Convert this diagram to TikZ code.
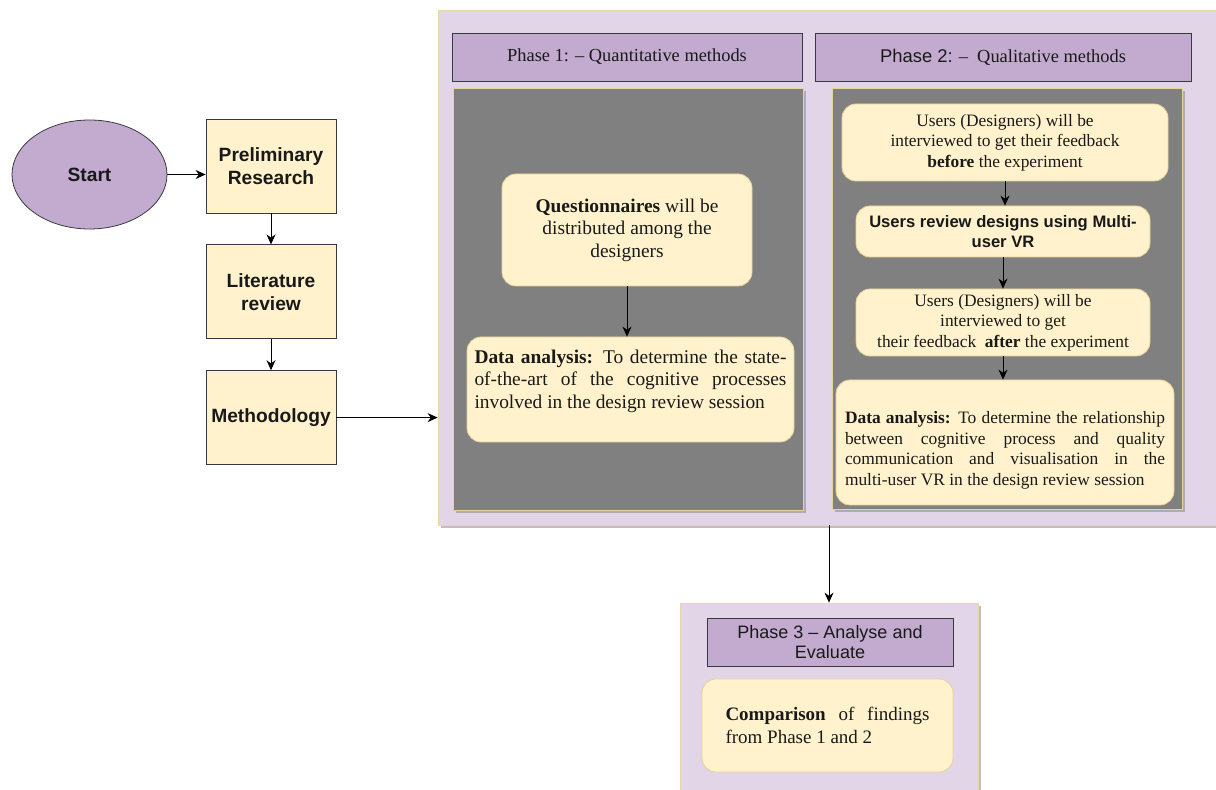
\documentclass[tikz,border=0pt]{standalone}
\usepackage{fontspec}
\setmainfont{Liberation Serif}
\setsansfont{Liberation Sans}
\usetikzlibrary{positioning,shapes.geometric,shadows,arrows.meta}

\definecolor{lilac}{HTML}{E1D5E7}
\definecolor{mauve}{HTML}{C3ABD0}
\definecolor{cream}{HTML}{FFF2CC}
\definecolor{gold}{HTML}{D6B656}
\definecolor{edge}{HTML}{36393D}
\definecolor{slate}{HTML}{808080}

\begin{document}
\begin{tikzpicture}[
    x=0.5pt, y=-0.5pt,
    node distance=15.5pt,
    >={Stealth[length=5pt,width=4.5pt]},
    every node/.style={inner sep=0pt, text=black!90},
    softshadow/.style={drop shadow={shadow xshift=1.5pt, shadow yshift=-1.5pt, fill=black!50, opacity=0.5}},
    startnode/.style={ellipse, draw=edge, fill=mauve, minimum width=77.5pt, minimum height=54.5pt, font=\sffamily\bfseries\fontsize{9.6}{11.5}\selectfont},
    stepbox/.style={draw=edge, fill=cream, minimum width=65pt, minimum height=47pt, align=center, font=\sffamily\bfseries\fontsize{9.6}{11.5}\selectfont},
    outerpanel/.style={draw=gold!55, fill=lilac, softshadow},
    phasehead/.style={draw=edge, fill=mauve, minimum height=24pt, align=center},
    greypanel/.style={draw=gold!60, fill=slate, minimum width=175pt, softshadow},
    softbox/.style={draw=gold!60, fill=cream, rounded corners=7pt, align=center},
    bodytext/.style={font=\fontsize{9.7}{11.25}\selectfont},
    smalltext/.style={font=\fontsize{8.7}{10.25}\selectfont}
]
\useasboundingbox (0,0) rectangle (1216,790);

% Left column
\node[startnode] (start) at (89.5,174.5) {Start};
\node[stepbox] (prelim) at (271,166) {Preliminary\\Research};
\node[stepbox, below=of prelim] (litrev) {Literature\\review};
\node[stepbox, below=of litrev] (method) {Methodology};

\draw[->] (start.east) -- (start.east -| prelim.west);
\draw[->] (prelim) -- (litrev);
\draw[->] (litrev) -- (method);

% Phase 1 and 2 panel
\node[outerpanel, minimum width=396pt, minimum height=257.5pt] (outer) at (834,267.5) {};
\draw[->] (method.east) -- (method.east -| outer.west);

\node[phasehead, minimum width=175pt, font=\fontsize{9.2}{11}\selectfont] (head1) at (627,57) {Phase 1: – Quantitative methods};
\node[phasehead, minimum width=188pt, font=\fontsize{9.2}{11}\selectfont] (head2) at (1003,57) {{\sffamily Phase 2:} – \ Qualitative methods};

\node[greypanel, minimum height=211pt] (panel1) at (628,299) {};
\node[greypanel, minimum height=210.5pt] (panel2) at (1007,298.5) {};

% Phase 1 steps
\node[softbox, bodytext, minimum width=125pt, minimum height=56pt] (quest) at (627,230) {\textbf{Questionnaires} will be\\distributed among the\\designers};
\node[softbox, minimum width=163.5pt, minimum height=52.5pt] (analysis1) at (630.5,389.5) {};
\node[bodytext, text width=156pt, align=justify] (analysis1txt) at (630.5,381) {\textbf{Data analysis:} To determine the state-\linebreak of-the-art of the cognitive processes\linebreak involved in the design review session};
\draw[->] (quest.south) -- (quest.south |- analysis1.north);

% Phase 2 steps
\node[softbox, smalltext, minimum width=163pt, minimum height=38.5pt] (before) at (1005,142.5) {Users (Designers) will be\\interviewed to get their feedback\\\textbf{before} the experiment};
\node[softbox, font=\sffamily\bfseries\fontsize{8.3}{10}\selectfont, minimum width=147pt, minimum height=25.5pt] (vrreview) at (1003,231.5) {Users review designs using Multi-\\user VR};
\node[softbox, smalltext, minimum width=147pt, minimum height=33.5pt] (after) at (1003,322.5) {Users (Designers) will be\\interviewed to get\\their feedback \ \textbf{after} the experiment};
\node[softbox, minimum width=169pt, minimum height=62.5pt] (analysis2) at (1005,442.5) {};
\node[smalltext, text width=160pt, align=justify] (analysis2txt) at (1005,450.5) {\textbf{Data analysis:} To determine the relationship\linebreak between cognitive process and quality\linebreak communication and visualisation in the\linebreak multi-user VR in the design review session};

\draw[->] (before.south) -- (before.south |- vrreview.north);
\draw[->] (vrreview) -- (after);
\draw[->] (after.south) -- (after.south |- analysis2.north);

% Phase 3
\node[outerpanel, minimum width=149pt, minimum height=94.5pt] (phase3) at (829,697.5) {};
\draw[->] (outer.south -| phase3.north) -- (phase3.north);
\node[phasehead, minimum width=123pt, font=\sffamily\fontsize{9}{10}\selectfont] (head3) at (830,642) {Phase 3 – Analyse and\\Evaluate};
\node[softbox, font=\fontsize{9.5}{11.5}\selectfont, text width=102pt, align=justify, inner xsep=11.75pt, minimum height=46.5pt] (compare) at (827.5,725.5) {\textbf{Comparison} of findings\linebreak from Phase 1 and 2};

\end{tikzpicture}
\end{document}
